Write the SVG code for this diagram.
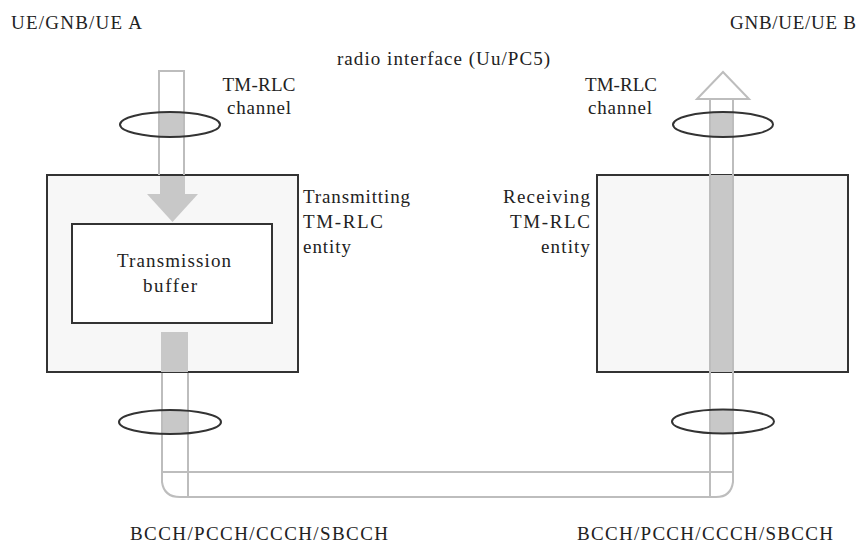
<svg xmlns="http://www.w3.org/2000/svg" width="863" height="544" viewBox="0 0 863 544">
<style>
text{font-family:"Liberation Serif","DejaVu Serif",serif;font-size:19px;fill:#222}
.box{fill:#f7f7f7;stroke:#333;stroke-width:2}
.inner{fill:#fff;stroke:#333;stroke-width:2}
.pipe{fill:none;stroke:#bdbdbd;stroke-width:2}
.pipew{fill:#fff;stroke:#bdbdbd;stroke-width:2}
.shade{fill:#c8c8c8;stroke:none}
.ring{fill:none;stroke:#333;stroke-width:2}
</style>
<rect width="863" height="544" fill="#fff"/>
<g id="labels">
<text x="11" y="29" textLength="131">UE/GNB/UE A</text>
<text x="730" y="29" textLength="126">GNB/UE/UE B</text>
<text x="337" y="65" textLength="213">radio interface (Uu/PC5)</text>
<text x="130" y="540" textLength="258">BCCH/PCCH/CCCH/SBCCH</text>
<text x="577" y="540" textLength="256">BCCH/PCCH/CCCH/SBCCH</text>
</g>
<g id="tx-entity">
<rect class="box" x="47" y="175" width="251" height="197"/>
<text x="303" y="203" textLength="107">Transmitting</text>
<text x="303" y="228" textLength="80">TM-RLC</text>
<text x="303" y="253" textLength="48">entity</text>
</g>
<g id="tx-buffer">
<rect class="inner" x="72" y="224" width="200" height="99"/>
<text x="174" y="267" text-anchor="middle" textLength="114">Transmission</text>
<text x="170" y="292" text-anchor="middle" textLength="54">buffer</text>
</g>
<g id="rx-entity">
<rect class="box" x="597" y="175" width="251" height="197"/>
<text x="590" y="203" text-anchor="end" textLength="87">Receiving</text>
<text x="590" y="228" text-anchor="end" textLength="80">TM-RLC</text>
<text x="590" y="253" text-anchor="end" textLength="49">entity</text>
</g>
<g id="connectors">
<rect class="shade" x="160" y="112" width="24" height="25"/>
<path class="pipe" d="M159,175 V71 H184 V175"/>
<rect class="shade" x="160" y="176" width="25" height="19"/>
<polygon class="shade" points="147,194 198,194 172.5,222"/>
<ellipse class="ring" cx="170" cy="124.5" rx="50" ry="12.5"/>
<rect class="shade" x="161" y="332" width="27" height="40"/>
<rect class="shade" x="162" y="410" width="26" height="24"/>
<path class="pipe" d="M162,373 V472 M188,373 V472"/>
<path class="pipe" d="M162,472 V482 Q164,497 180,497 H188 V472 Z"/>
<ellipse class="ring" cx="170" cy="422" rx="51" ry="12"/>
<rect class="pipe" x="188" y="472" width="522" height="25"/>
<path class="pipe" d="M710,472 H733 V482 Q731,497 716,497 H710 Z"/>
<rect class="shade" x="710" y="175" width="24" height="197"/>
<rect class="shade" x="710" y="112" width="23" height="25"/>
<rect class="shade" x="710" y="410" width="23" height="24"/>
<path class="pipe" d="M710,97 V472 M733,97 V472 M710,97 H733"/>
<polygon class="pipew" points="697,99 749,99 723,72"/>
<ellipse class="ring" cx="723" cy="124.5" rx="50" ry="12.5"/>
<ellipse class="ring" cx="723" cy="421.5" rx="51" ry="12"/>
</g>
<g id="channel-labels">
<text x="259" y="91" text-anchor="middle" textLength="73">TM-RLC</text>
<text x="259" y="114" text-anchor="middle" textLength="64">channel</text>
<text x="621" y="91" text-anchor="middle" textLength="72">TM-RLC</text>
<text x="620" y="114" text-anchor="middle" textLength="64">channel</text>
</g>
</svg>
